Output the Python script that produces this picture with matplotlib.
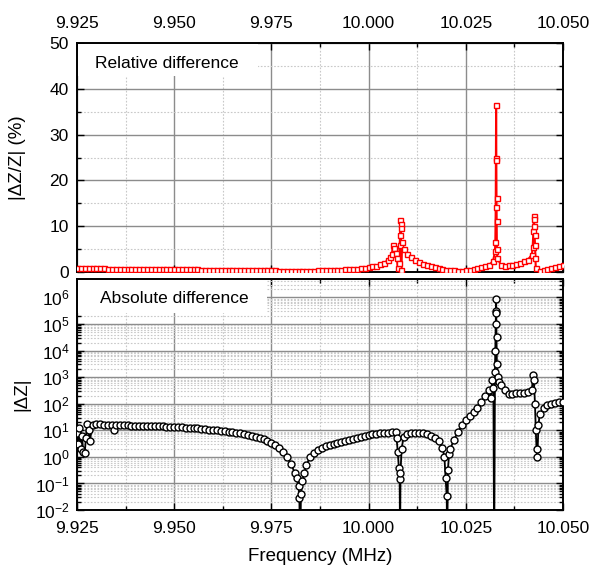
import numpy as np
import matplotlib
matplotlib.use("Agg")
import matplotlib.pyplot as plt
from matplotlib.ticker import MultipleLocator, LogLocator, NullFormatter, FixedLocator
from matplotlib.patches import Rectangle

plt.rcParams['font.family'] = ['Liberation Sans', 'DejaVu Sans']
plt.rcParams['mathtext.fontset'] = 'custom'
plt.rcParams['mathtext.rm'] = 'Liberation Sans'
plt.rcParams['mathtext.it'] = 'Liberation Sans:italic'

# ---------------- data ----------------
# Relative difference |dZ/Z| (%)
rel_freq = [
    9.925, 9.926, 9.927, 9.928, 9.929, 9.930, 9.931, 9.932, 9.933, 9.934,
    9.935, 9.936, 9.937, 9.938, 9.939, 9.940, 9.941, 9.942, 9.943, 9.944,
    9.945, 9.946, 9.947, 9.948, 9.949, 9.950, 9.951, 9.952, 9.953, 9.954,
    9.955, 9.956, 9.957, 9.958, 9.959, 9.960, 9.961, 9.962, 9.963, 9.964,
    9.965, 9.966, 9.967, 9.968, 9.969, 9.970, 9.971, 9.972, 9.973, 9.974,
    9.975, 9.976, 9.977, 9.978, 9.979, 9.980, 9.981, 9.982, 9.983, 9.984,
    9.985, 9.986, 9.987, 9.988, 9.989, 9.990, 9.991, 9.992, 9.993, 9.994,
    9.995, 9.996, 9.997, 9.998, 9.999, 10.000, 10.001, 10.002, 10.003, 10.004,
    10.005, 10.0055, 10.006, 10.0063, 10.0066, 10.007, 10.0073, 10.0075, 10.0078, 10.008,
    10.0081, 10.0082, 10.00825, 10.0083, 10.0084, 10.0086, 10.009, 10.010, 10.011, 10.012,
    10.013, 10.014, 10.015, 10.016, 10.017, 10.018, 10.019, 10.020, 10.021, 10.022,
    10.023, 10.024, 10.025, 10.026, 10.027, 10.028, 10.029, 10.030, 10.031, 10.032,
    10.0325, 10.0326, 10.0327, 10.03275, 10.0328, 10.03285, 10.0329, 10.03295, 10.0330, 10.0331,
    10.034, 10.035, 10.036, 10.037, 10.038, 10.039, 10.040, 10.041, 10.042, 10.0422,
    10.0424, 10.0425, 10.04255, 10.0426, 10.0427, 10.0428, 10.0429, 10.043, 10.044, 10.045,
    10.046, 10.047, 10.048, 10.049, 10.050,
]
rel_pct = [
    0.9, 0.8, 0.9, 0.8, 0.8, 0.8, 0.8, 0.8, 0.75, 0.75,
    0.75, 0.7, 0.7, 0.7, 0.7, 0.7, 0.7, 0.65, 0.65, 0.65,
    0.65, 0.6, 0.6, 0.6, 0.6, 0.6, 0.6, 0.6, 0.55, 0.55,
    0.55, 0.55, 0.5, 0.5, 0.5, 0.5, 0.5, 0.5, 0.45, 0.45,
    0.45, 0.45, 0.4, 0.4, 0.4, 0.4, 0.4, 0.4, 0.35, 0.35,
    0.35, 0.35, 0.3, 0.3, 0.3, 0.3, 0.3, 0.3, 0.3, 0.3,
    0.3, 0.3, 0.35, 0.35, 0.35, 0.4, 0.4, 0.45, 0.5, 0.55,
    0.6, 0.65, 0.7, 0.8, 0.9, 1.0, 1.2, 1.4, 1.7, 2.0,
    2.6, 3.2, 4.0, 5.9, 5.2, 4.2, 3.0, 0.8, 2.0, 6.0,
    8.0, 11.3, 10.5, 9.5, 0.5, 6.5, 5.0, 4.0, 3.3, 2.7,
    2.2, 1.8, 1.5, 1.2, 1.0, 0.8, 0.6, 0.5, 0.4, 0.35,
    0.3, 0.3, 0.35, 0.45, 0.6, 0.8, 1.0, 1.3, 1.6, 2.3,
    4.5, 6.6, 14.2, 25.0, 36.5, 24.5, 16.2, 11.1, 5.0, 3.0,
    1.6, 1.4, 1.5, 1.6, 1.8, 2.0, 2.3, 2.7, 3.8, 5.5,
    9.0, 12.2, 11.5, 10.0, 8.0, 6.0, 3.0, 0.8, 0.3, 0.5,
    0.7, 0.9, 1.1, 1.3, 1.5,
]

# Absolute difference |dZ| (stored as log10 exponents)
abs_freq = [
    9.925, 9.9253, 9.9256, 9.926, 9.9263, 9.9266, 9.927, 9.9273, 9.9276, 9.928,
    9.9283, 9.929, 9.930, 9.931, 9.932, 9.933, 9.934, 9.9345, 9.935, 9.936,
    9.937, 9.938, 9.939, 9.940, 9.941, 9.942, 9.943, 9.944, 9.945, 9.946,
    9.947, 9.948, 9.949, 9.950, 9.951, 9.952, 9.953, 9.954, 9.955, 9.956,
    9.957, 9.958, 9.959, 9.960, 9.961, 9.962, 9.963, 9.964, 9.965, 9.966,
    9.967, 9.968, 9.969, 9.970, 9.971, 9.972, 9.973, 9.974, 9.975, 9.976,
    9.977, 9.978, 9.979, 9.980, 9.981, 9.9815, 9.982, 9.9822, 9.9824, 9.9826,
    9.983, 9.9835, 9.984, 9.985, 9.986, 9.987, 9.988, 9.989, 9.990, 9.991,
    9.992, 9.993, 9.994, 9.995, 9.996, 9.997, 9.998, 9.999, 10.000, 10.001,
    10.002, 10.003, 10.004, 10.005, 10.006, 10.007, 10.0072, 10.0075, 10.0078, 10.008,
    10.0081, 10.0082, 10.0085, 10.009, 10.010, 10.011, 10.012, 10.013, 10.014, 10.015,
    10.016, 10.017, 10.018, 10.019, 10.0195, 10.0198, 10.0201, 10.0202, 10.0204, 10.0207,
    10.021, 10.022, 10.023, 10.024, 10.025, 10.026, 10.027, 10.028, 10.029, 10.030,
    10.031, 10.0315, 10.0318, 10.0321, 10.0323, 10.0325, 10.0326, 10.0327, 10.03275, 10.0328,
    10.03285, 10.0329, 10.0330, 10.0332, 10.0335, 10.034, 10.035, 10.036, 10.037, 10.038,
    10.039, 10.040, 10.041, 10.042, 10.0423, 10.0425, 10.0428, 10.043, 10.0432, 10.0434,
    10.0437, 10.044, 10.045, 10.046, 10.047, 10.048, 10.049, 10.050,
]
abs_log10 = [
    0.9, 0.5, 1.1, 0.3, 0.8, 0.2, 0.15, 0.7, 1.25, 1.0,
    0.6, 1.2, 1.22, 1.22, 1.21, 1.21, 1.2, 1.0, 1.2, 1.2,
    1.19, 1.19, 1.18, 1.18, 1.17, 1.17, 1.16, 1.16, 1.16, 1.15,
    1.15, 1.14, 1.14, 1.13, 1.12, 1.11, 1.10, 1.09, 1.08, 1.07,
    1.06, 1.05, 1.03, 1.02, 1.0, 0.99, 0.97, 0.95, 0.93, 0.91,
    0.89, 0.86, 0.83, 0.80, 0.76, 0.72, 0.67, 0.61, 0.53, 0.44,
    0.33, 0.18, 0.0, -0.25, -0.6, -0.8, -1.1, -1.55, -4.0, -1.4,
    -0.9, -0.6, -0.3, 0.0, 0.15, 0.25, 0.35, 0.4, 0.45, 0.5,
    0.53, 0.57, 0.6, 0.63, 0.67, 0.7, 0.75, 0.79, 0.83, 0.85,
    0.87, 0.89, 0.9, 0.91, 0.93, 0.95, 0.7, 0.2, -0.4, -0.85,
    -4.0, -0.6, 0.3, 0.75, 0.85, 0.9, 0.9, 0.9, 0.88, 0.85,
    0.8, 0.72, 0.6, 0.35, 0.0, -0.8, -1.47, -4.0, -0.5, 0.1,
    0.3, 0.65, 0.95, 1.2, 1.4, 1.55, 1.7, 1.85, 2.05, 2.3,
    2.5, 2.2, 2.9, 2.6, -4.0, 3.2, 4.0, 5.0, 5.5, 5.96,
    5.4, 4.5, 3.5, 3.0, 2.8, 2.7, 2.5, 2.35, 2.35, 2.4,
    2.4, 2.42, 2.45, 2.5, 3.1, 2.9, 2.0, 1.0, 0.3, 0.0,
    1.2, 1.6, 1.85, 1.95, 2.0, 2.03, 2.05, 2.06,
]

x_ticks = [9.925, 9.950, 9.975, 10.000, 10.025, 10.050]
x_ticklabels = ["9.925", "9.950", "9.975", "10.000", "10.025", "10.050"]

# ---------------- figure ----------------
fig = plt.figure(figsize=(5.92, 5.75), dpi=100)
ax1 = fig.add_axes([0.130, 0.527, 0.821, 0.398])
ax2 = fig.add_axes([0.130, 0.113, 0.821, 0.402])

major_grid = dict(color='#8c8c8c', linewidth=1.0, linestyle='-')
minor_grid = dict(color='#c8c8c8', linewidth=0.8, linestyle=(0, (1.5, 1.5)))

for ax in (ax1, ax2):
    ax.set_xlim(9.925, 10.050)
    ax.xaxis.set_major_locator(FixedLocator(x_ticks))
    ax.xaxis.set_minor_locator(MultipleLocator(0.0125))
    ax.set_axisbelow(True)
    ax.grid(True, which='major', **major_grid)
    ax.grid(True, which='minor', **minor_grid)
    for s in ax.spines.values():
        s.set_linewidth(1.4)
    ax.tick_params(which='both', direction='in', top=True, right=True,
                   labelsize=12.5, width=1.0, color='black')
    ax.tick_params(which='major', length=5)
    ax.tick_params(which='minor', length=3)

# top panel
ax1.plot(rel_freq, rel_pct, color='red', linewidth=1.5, marker='s',
         markersize=3.6, markerfacecolor='white', markeredgecolor='red',
         markeredgewidth=1.0, zorder=3, clip_on=True)
ax1.set_ylim(0, 50)
ax1.yaxis.set_major_locator(MultipleLocator(10))
ax1.yaxis.set_minor_locator(MultipleLocator(5))
ax1.tick_params(axis='x', labeltop=True, labelbottom=False, pad=9)
ax1.tick_params(axis='y', pad=6)
ax1.set_xticklabels(x_ticklabels)
ax1.set_ylabel('|ΔZ/Z| (%)', fontsize=13.5)
ax1.yaxis.set_label_coords(-0.105, 0.5)
ax1.add_patch(Rectangle((0.003, 0.856), 0.369, 0.14, transform=ax1.transAxes,
                        facecolor='white', edgecolor='none', zorder=2))
ax1.text(0.037, 0.912, 'Relative difference', transform=ax1.transAxes,
         fontsize=12.5, va='center', ha='left', zorder=4)

# bottom panel
abs_val = [10.0 ** v for v in abs_log10]
ax2.plot(abs_freq, abs_val, color='black', linewidth=1.3, marker='o',
         markersize=5.0, markerfacecolor='white', markeredgecolor='black',
         markeredgewidth=1.0, zorder=3)
ax2.set_yscale('log')
ax2.set_ylim(1e-2, 5e6)
ax2.yaxis.set_major_locator(LogLocator(base=10, numticks=20))
ax2.yaxis.set_minor_locator(LogLocator(base=10, subs=np.arange(2, 10), numticks=20))
ax2.yaxis.set_minor_formatter(NullFormatter())
ax2.tick_params(axis='x', pad=8)
ax2.tick_params(axis='y', pad=5)
ax2.set_xticklabels(x_ticklabels)
ax2.set_ylabel('|ΔZ|', fontsize=13.5)
ax2.yaxis.set_label_coords(-0.095, 0.5)
ax2.set_xlabel('Frequency (MHz)', fontsize=13.5)
ax2.xaxis.set_label_coords(0.5, -0.165)
ax2.add_patch(Rectangle((0.003, 0.853), 0.387, 0.145, transform=ax2.transAxes,
                        facecolor='white', edgecolor='none', zorder=2))
ax2.text(0.047, 0.915, 'Absolute difference', transform=ax2.transAxes,
         fontsize=12.5, va='center', ha='left', zorder=4)

fig.savefig('out.png', dpi=100)
